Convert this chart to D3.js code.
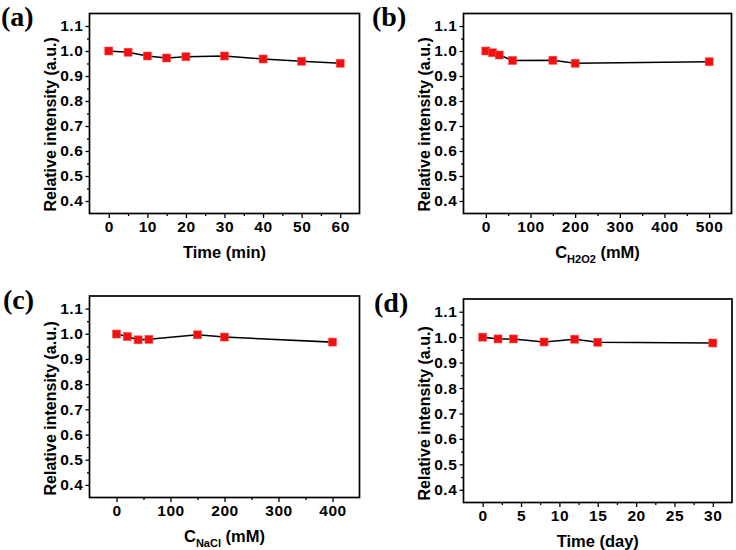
<!DOCTYPE html>
<html>
<head>
<meta charset="utf-8">
<script src="https://cdn.jsdelivr.net/npm/d3@7/dist/d3.min.js"></script>
<style>
  html, body { margin: 0; padding: 0; background: #fff; }
  svg { display: block; }
  .tick-label { font-family: "Liberation Sans", Arial, sans-serif; font-weight: bold; font-size: 15.5px; letter-spacing: 0.6px; fill: #000; }
  .axis-title { font-family: "Liberation Sans", Arial, sans-serif; font-weight: bold; fill: #000; }
  .panel-label { font-family: "Liberation Serif", "Times New Roman", serif; font-weight: bold; font-size: 28px; fill: #000; }
</style>
</head>
<body>
<script>
// ---------- DATA ----------
const timeMin = [0, 5, 10, 15, 20, 30, 40, 50, 60];
const intensityTime = [1.000, 0.995, 0.980, 0.972, 0.977, 0.980, 0.968, 0.959, 0.951];

const concH2O2 = [0, 15, 30, 60, 150, 200, 500];
const intensityH2O2 = [1.000, 0.993, 0.984, 0.962, 0.963, 0.951, 0.957];

const concNaCl = [0, 20, 40, 60, 150, 200, 400];
const intensityNaCl = [0.999, 0.989, 0.976, 0.978, 0.996, 0.987, 0.967];

const timeDay = [0, 2, 4, 8, 12, 15, 30];
const intensityDay = [1.000, 0.993, 0.993, 0.981, 0.992, 0.980, 0.977];

const yTickValues = [0.4, 0.5, 0.6, 0.7, 0.8, 0.9, 1.0, 1.1];
const xTicksTime = [0, 10, 20, 30, 40, 50, 60];
const xTicksH2O2 = [0, 100, 200, 300, 400, 500];
const xTicksNaCl = [0, 100, 200, 300, 400];
const xTicksDay = [0, 5, 10, 15, 20, 25, 30];
const panelLabels = ["(a)", "(b)", "(c)", "(d)"];

// ---------- LAYOUT ----------
const W = 736, H = 550;
const svg = d3.select("body").append("svg").attr("width", W).attr("height", H);

const panels = [
  { label: panelLabels[0], lx: 1, ly: 26, x0: 89.5, x1: 359.5, y0: 13.5, y1: 213.5,
    xDomain: [-5, 65], xTicks: xTicksTime, xMinorStep: 5, xs: timeMin, ys: intensityTime,
    title: [{t: "Time (min)"}] },
  { label: panelLabels[1], lx: 372, ly: 26, x0: 463.5, x1: 731.5, y0: 13.5, y1: 213.5,
    xDomain: [-50, 550], xTicks: xTicksH2O2, xMinorStep: 50, xs: concH2O2, ys: intensityH2O2,
    title: [{t: "C"}, {t: "H2O2", sub: true}, {t: " (mM)"}] },
  { label: panelLabels[2], lx: 3, ly: 309, x0: 89.5, x1: 359.5, y0: 296, y1: 497.5,
    xDomain: [-50, 450], xTicks: xTicksNaCl, xMinorStep: 50, xs: concNaCl, ys: intensityNaCl,
    title: [{t: "C"}, {t: "NaCl", sub: true}, {t: " (mM)"}] },
  { label: panelLabels[3], lx: 374, ly: 312, x0: 463.5, x1: 732, y0: 299, y1: 502.5,
    xDomain: [-2.5, 32.5], xTicks: xTicksDay, xMinorStep: 2.5, xs: timeDay, ys: intensityDay,
    title: [{t: "Time (day)"}] }
];

panels.forEach(p => {
  const g = svg.append("g");
  const x = d3.scaleLinear().domain(p.xDomain).range([p.x0, p.x1]);
  const y = d3.scaleLinear().domain([0.35, 1.15]).range([p.y1, p.y0]);

  const xMinor = d3.range(p.xDomain[0] + p.xMinorStep, p.xDomain[1] - 1e-9, p.xMinorStep)
      .filter(v => !p.xTicks.some(t => Math.abs(t - v) < 1e-9));
  const yMinor = d3.range(0.45, 1.1, 0.1);

  // bottom axis (major)
  const xAxis = d3.axisBottom(x).tickValues(p.xTicks).tickSize(4.5).tickSizeOuter(0)
      .tickPadding(3).tickFormat(d3.format("d"));
  const gx = g.append("g").attr("transform", `translate(0,${p.y1})`).call(xAxis);
  gx.select(".domain").remove();
  gx.selectAll("line").attr("stroke", "#000").attr("stroke-width", 1.3);
  gx.selectAll("text").attr("class", "tick-label").attr("font-size", null).attr("font-family", null);

  const xAxisMinor = d3.axisBottom(x).tickValues(xMinor).tickSize(2.5).tickSizeOuter(0).tickFormat("");
  const gxm = g.append("g").attr("transform", `translate(0,${p.y1})`).call(xAxisMinor);
  gxm.select(".domain").remove();
  gxm.selectAll("line").attr("stroke", "#000").attr("stroke-width", 1.3);

  // left axis
  const yAxis = d3.axisLeft(y).tickValues(yTickValues).tickSize(4).tickSizeOuter(0)
      .tickPadding(2).tickFormat(d3.format(".1f"));
  const gy = g.append("g").attr("transform", `translate(${p.x0},0)`).call(yAxis);
  gy.select(".domain").remove();
  gy.selectAll("line").attr("stroke", "#000").attr("stroke-width", 1.3);
  gy.selectAll("text").attr("class", "tick-label").attr("font-size", null).attr("font-family", null);

  const yAxisMinor = d3.axisLeft(y).tickValues(yMinor).tickSize(2.5).tickSizeOuter(0).tickFormat("");
  const gym = g.append("g").attr("transform", `translate(${p.x0},0)`).call(yAxisMinor);
  gym.select(".domain").remove();
  gym.selectAll("line").attr("stroke", "#000").attr("stroke-width", 1.3);

  // frame
  g.append("rect").attr("x", p.x0).attr("y", p.y0)
    .attr("width", p.x1 - p.x0).attr("height", p.y1 - p.y0)
    .attr("fill", "none").attr("stroke", "#000").attr("stroke-width", 1.7);

  // line + markers
  const pts = p.xs.map((v, i) => [v, p.ys[i]]);
  const line = d3.line().x(d => x(d[0])).y(d => y(d[1]));
  g.append("path").datum(pts).attr("d", line)
    .attr("fill", "none").attr("stroke", "#000").attr("stroke-width", 1.6);
  const s = 8;
  g.selectAll("rect.pt").data(pts).enter().append("rect").attr("class", "pt")
    .attr("x", d => x(d[0]) - s / 2).attr("y", d => y(d[1]) - s / 2)
    .attr("width", s).attr("height", s)
    .attr("fill", "#f20f0f").attr("stroke", "#ff5050").attr("stroke-width", 0.6);

  // y title
  g.append("text").attr("class", "axis-title")
    .attr("font-size", 16)
    .attr("transform", `translate(${p.x0 - 34},${p.y1 - 2}) rotate(-90)`)
    .attr("text-anchor", "start")
    .text("Relative intensity (a.u.)");

  // x title
  const xt = g.append("text").attr("class", "axis-title")
    .attr("font-size", 16.5)
    .attr("x", (p.x0 + p.x1) / 2).attr("y", p.y1 + 44)
    .attr("text-anchor", "middle");
  p.title.forEach(part => {
    const ts = xt.append("tspan").text(part.t);
    if (part.sub) ts.attr("font-size", 11).attr("dy", 5);
    else if (part.t.startsWith(" ")) ts.attr("dy", -5);
  });

  // panel label
  svg.append("text").attr("class", "panel-label").attr("x", p.lx).attr("y", p.ly).text(p.label);
});
</script>
</body>
</html>
